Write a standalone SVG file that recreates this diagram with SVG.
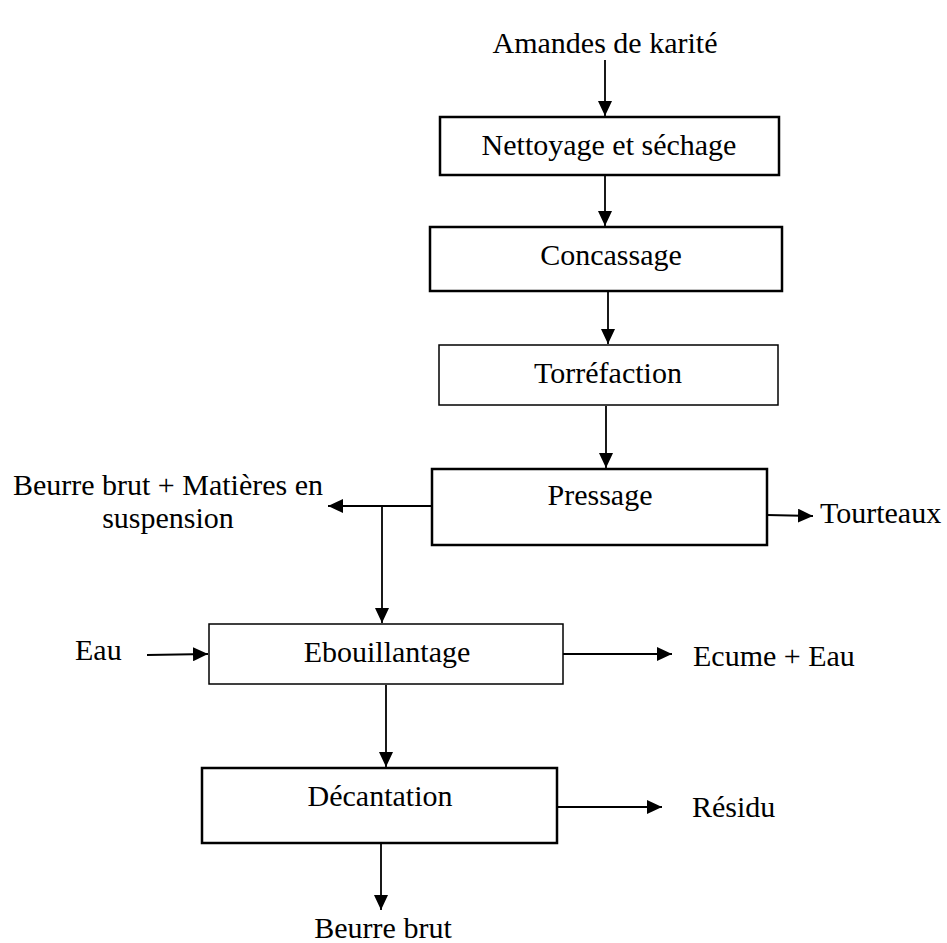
<svg xmlns="http://www.w3.org/2000/svg" width="947" height="943" viewBox="0 0 947 943">
<style>
text{font-family:"Liberation Serif","Times New Roman",serif;font-size:30px;fill:#000}
.c{text-anchor:middle}
.thick{fill:#fff;stroke:#000;stroke-width:2.5}
.thin{fill:#fff;stroke:#000;stroke-width:1.5}
.ln{stroke:#000;stroke-width:1.8;fill:none}
</style>
<defs>
<marker id="ah" markerUnits="userSpaceOnUse" viewBox="0 0 15 14" refX="15" refY="7" markerWidth="15" markerHeight="14" orient="auto">
<path d="M0,0 L15,7 L0,14 z" fill="#000"/>
</marker>
</defs>
<rect width="947" height="943" fill="#fff"/>
<g id="connectors">
<line class="ln" x1="605" y1="60" x2="605" y2="116" marker-end="url(#ah)"/>
<line class="ln" x1="605" y1="176" x2="605" y2="226" marker-end="url(#ah)"/>
<line class="ln" x1="608" y1="292" x2="608" y2="344" marker-end="url(#ah)"/>
<line class="ln" x1="606" y1="406" x2="606" y2="468" marker-end="url(#ah)"/>
<line class="ln" x1="432" y1="506" x2="328" y2="506" marker-end="url(#ah)"/>
<line class="ln" x1="382" y1="506" x2="382" y2="623" marker-end="url(#ah)"/>
<line class="ln" x1="767" y1="515" x2="813" y2="516" marker-end="url(#ah)"/>
<line class="ln" x1="147" y1="655" x2="208" y2="654" marker-end="url(#ah)"/>
<line class="ln" x1="563" y1="654" x2="672" y2="654" marker-end="url(#ah)"/>
<line class="ln" x1="386" y1="685" x2="386" y2="767" marker-end="url(#ah)"/>
<line class="ln" x1="557" y1="807" x2="662" y2="807" marker-end="url(#ah)"/>
<line class="ln" x1="381" y1="844" x2="381" y2="910" marker-end="url(#ah)"/>
</g>
<g id="amandes"><text class="c" x="605" y="53">Amandes de karité</text></g>
<g id="nettoyage"><rect class="thick" x="440" y="117" width="339" height="58"/><text class="c" x="609" y="155">Nettoyage et séchage</text></g>
<g id="concassage"><rect class="thick" x="430" y="227" width="352" height="64"/><text class="c" x="611" y="265">Concassage</text></g>
<g id="torrefaction"><rect class="thin" x="439" y="345" width="339" height="60"/><text class="c" x="608" y="383">Torréfaction</text></g>
<g id="pressage"><rect class="thick" x="432" y="469" width="335" height="76"/><text class="c" x="600" y="505">Pressage</text></g>
<g id="beurre-matieres"><text class="c" x="168" y="495">Beurre brut + Matières en</text><text class="c" x="168" y="528">suspension</text></g>
<g id="tourteaux"><text x="820" y="523">Tourteaux</text></g>
<g id="eau"><text x="75" y="660">Eau</text></g>
<g id="ebouillantage"><rect class="thin" x="209" y="624" width="354" height="60"/><text class="c" x="387" y="662">Ebouillantage</text></g>
<g id="ecume"><text x="693" y="666">Ecume + Eau</text></g>
<g id="decantation"><rect class="thick" x="202" y="768" width="355" height="75"/><text class="c" x="380" y="806">Décantation</text></g>
<g id="residu"><text x="692" y="817">Résidu</text></g>
<g id="beurre-brut"><text class="c" x="383" y="938">Beurre brut</text></g>
</svg>
